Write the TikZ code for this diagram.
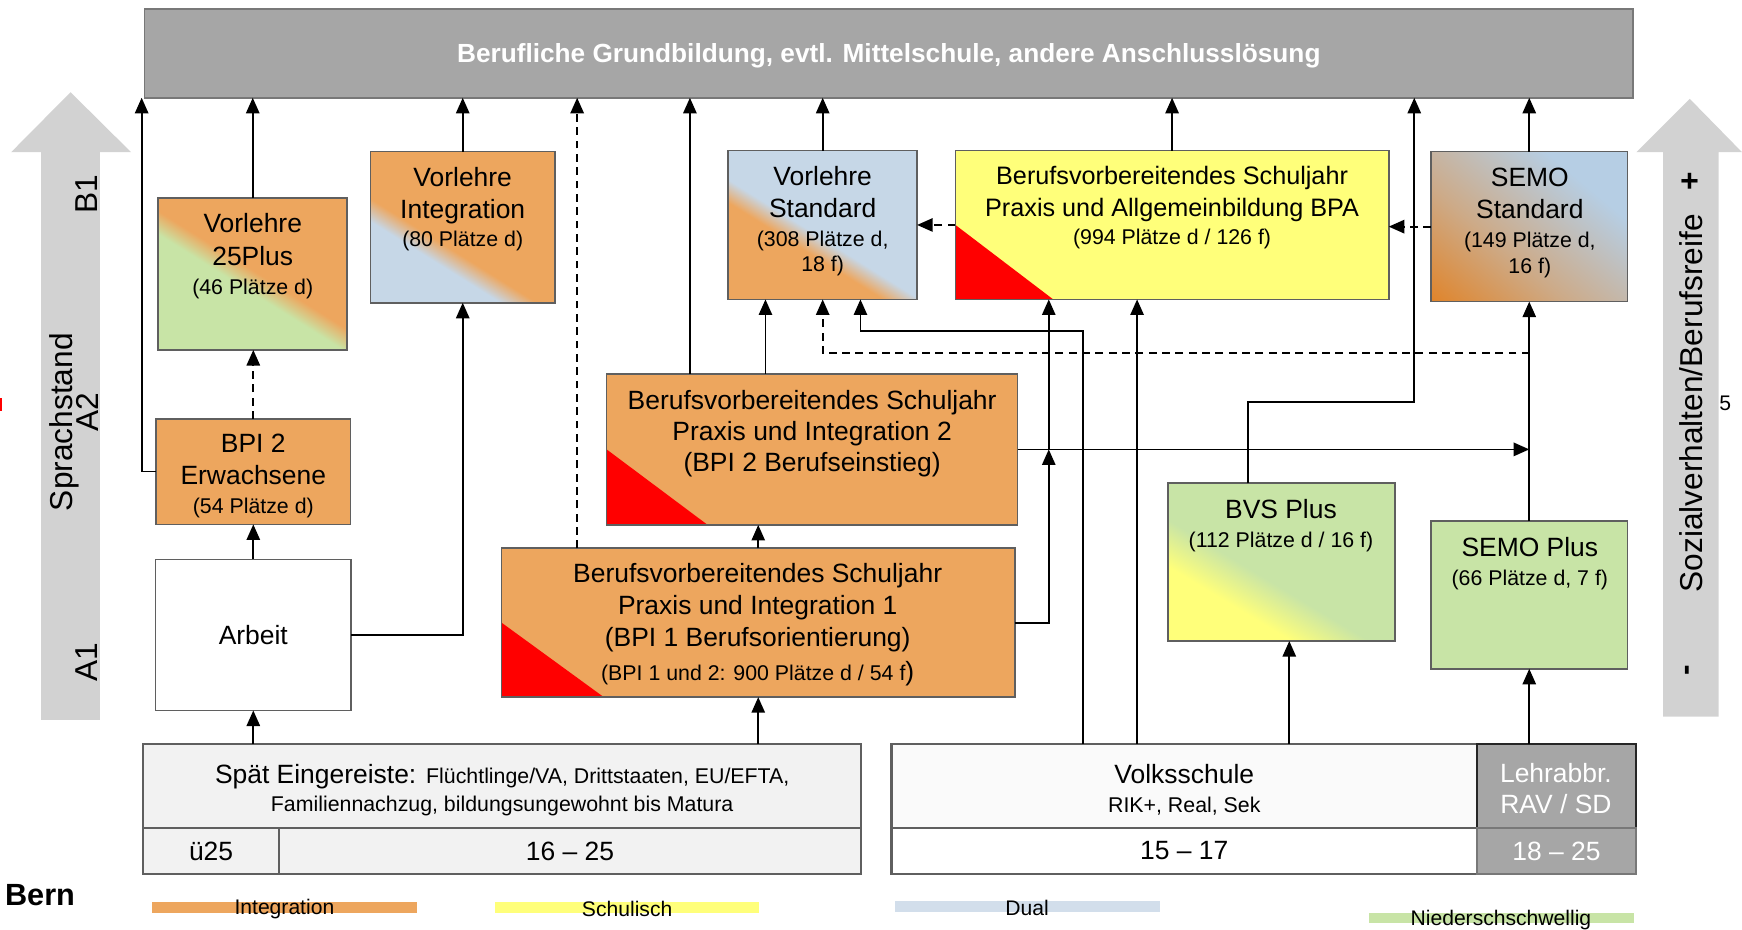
\documentclass[tikz,border=0pt]{standalone}
\usepackage{fontspec}
\setmainfont{Liberation Sans}
\usetikzlibrary{arrows.meta,calc}

\definecolor{corange}{RGB}{237,166,94}
\definecolor{cgreen}{RGB}{200,228,166}
\definecolor{cblue}{RGB}{198,215,231}
\definecolor{cyellow}{RGB}{255,255,122}
\definecolor{cgraybar}{RGB}{166,166,166}
\definecolor{cgraydk}{RGB}{120,120,120}
\definecolor{cborder}{RGB}{95,95,95}
\definecolor{carrow}{RGB}{210,210,210}
\definecolor{clight}{RGB}{242,242,242}
\definecolor{clighter}{RGB}{250,250,250}
\definecolor{csemoA}{RGB}{226,128,32}
\definecolor{csemoB}{RGB}{205,170,135}
\definecolor{csemoC}{RGB}{182,206,228}
\definecolor{clegblue}{RGB}{210,222,235}

\pgfdeclarehorizontalshading{shPtf}{100bp}{color(0bp)=(cgreen); color(45bp)=(cgreen); color(51bp)=(corange); color(100bp)=(corange)}
\pgfdeclarehorizontalshading{shVint}{100bp}{color(0bp)=(cblue); color(36.5bp)=(cblue); color(42.5bp)=(corange); color(100bp)=(corange)}
\pgfdeclarehorizontalshading{shVstd}{100bp}{color(0bp)=(corange); color(40.5bp)=(corange); color(46.5bp)=(cblue); color(100bp)=(cblue)}
\pgfdeclarehorizontalshading{shBvs}{100bp}{color(0bp)=(cyellow); color(33bp)=(cyellow); color(44bp)=(cgreen); color(100bp)=(cgreen)}
\pgfdeclarehorizontalshading{shSemo}{100bp}{color(0bp)=(csemoA); color(12bp)=(csemoA); color(40bp)=(csemoB); color(70bp)=(csemoC); color(100bp)=(csemoC)}

\newcommand\fntM{\fontsize{23.8}{29}\selectfont}
\newcommand\fntP{\fontsize{22.7}{29}\selectfont}
\newcommand\fntS{\fontsize{19.2}{23}\selectfont}
\newcommand\fntB{\fontsize{23.6}{28}\selectfont\bfseries}
\newcommand\fntL{\fontsize{19}{22}\selectfont}
\newcommand\fntA{\fontsize{28.5}{30}\selectfont}

\begin{document}
\begin{tikzpicture}[x=1pt,y=-1pt,
  box/.style={draw=cborder, line width=1.5pt, anchor=north west, inner sep=0pt, outer sep=0pt, align=center, font=\fntM},
  tab/.style={box, draw=cborder, line width=2pt},
  txt/.style={align=center, inner sep=0pt, font=\fntM},
  arr/.style={line width=1.6pt, -{Triangle[length=14pt,width=12pt]}},
  dsh/.style={dash pattern=on 7pt off 5pt},
  redcorner/.style 2 args={path picture={\fill[red] (path picture bounding box.south west) -- ++(0,-#1) -- ++(#2,#1) -- cycle;}},
  lab/.style={font=\fntA, rotate=90, inner sep=0pt},
  legt/.style={font=\fntL, inner sep=0pt}
]
\useasboundingbox (0,0) rectangle (1568,837);

% side block arrows
\fill[carrow] (37,648) -- (37,137) -- (10,137) -- (63.5,83) -- (118,137) -- (90,137) -- (90,648) -- cycle;
\fill[carrow] (1497,645) -- (1497,137) -- (1473,137) -- (1521,89) -- (1568,137) -- (1547,137) -- (1547,645) -- cycle;
\fill[red] (0,358) rectangle (2,370);

\node[lab] (lB1) at (78,175) {B1};
\node[lab] (lSpr) at (58,380) {Sprachstand};
\node[lab] (lA2) at (79,371) {A2};
\node[lab] (lA1) at (78,596) {A1};
\node[lab, font=\fntA\bfseries] (lplus) at (1522,163) {+};
\node[lab] (lSoz) at (1522,363) {Sozialverhalten/Berufsreife};
\node[lab, font=\fntA\bfseries] (lminus) at (1522,603) {-};
\node[legt] (l5) at (1553,363) {5};

% top bar
\node[box, fill=cgraybar, draw=cgraydk, minimum width=1340pt, minimum height=80pt, font=\fntB, text=white, text depth=0pt] (top) at (130,8) {Berufliche Grundbildung, evtl. Mittelschule, andere Anschlusslösung};

% upper row boxes
\node[box, shade, shading=shPtf, shading angle=58, minimum width=170pt, minimum height=137pt] (p25) at (142.5,178) {};
\node[txt] (p25t) at (227.5,230.5) {Vorlehre\\25Plus\\[-3pt]{\fntS (46 Plätze d)}};

\node[box, shade, shading=shVint, shading angle=58, minimum width=166pt, minimum height=136pt] (vint) at (333.5,136.5) {};
\node[txt] (vintt) at (416.5,188) {Vorlehre\\Integration\\[-4pt]{\fntS (80 Plätze d)}};

\node[box, shade, shading=shVstd, shading angle=58, minimum width=170pt, minimum height=134pt] (vstd) at (655.5,135.5) {};
\node[txt] (vstdt) at (740.5,199) {Vorlehre\\Standard\\[-3pt]{\fntS (308 Plätze d,}\\[-6pt]{\fntS 18 f)}};

\node[box, fill=cyellow, redcorner={67}{88}, minimum width=390pt, minimum height=134pt] (bpa) at (860,135.5) {};
\node[txt, font=\fntP] (bpat) at (1055,187) {Berufsvorbereitendes Schuljahr\\Praxis und Allgemeinbildung BPA\\[-4pt]{\fntS (994 Plätze d / 126 f)}};

\node[box, shade, shading=shSemo, shading angle=50, minimum width=177pt, minimum height=135pt] (semostd) at (1288,136.5) {};
\node[txt] (semostdt) at (1377,200.5) {SEMO\\Standard\\[-3pt]{\fntS (149 Plätze d,}\\[-6pt]{\fntS 16 f)}};

% middle boxes
\node[box, fill=corange, minimum width=175pt, minimum height=95pt] (bpiE) at (140.5,377) {};
\node[txt] (bpiEt) at (228,428.5) {BPI 2\\Erwachsene\\[-3pt]{\fntS (54 Plätze d)}};

\node[box, fill=white, minimum width=176pt, minimum height=136pt] (arb) at (140,503.5) {Arbeit};

\node[box, fill=corange, redcorner={68}{91}, minimum width=370pt, minimum height=136pt] (bpi2) at (546,336.5) {};
\node[txt] (bpi2t) at (731,390.5) {Berufsvorbereitendes Schuljahr\\[-1pt]Praxis und Integration 2\\[-1pt](BPI 2 Berufseinstieg)};

\node[box, fill=corange, redcorner={67}{92}, minimum width=462pt, minimum height=134pt] (bpi1) at (451.5,493.5) {};
\node[txt] (bpi1t) at (682,562) {Berufsvorbereitendes Schuljahr\\Praxis und Integration 1\\(BPI 1 Berufsorientierung)\\[1pt]{\fntS (BPI 1 und 2: 900 Plätze d / 54 f}{\fntM )}};

\node[box, shade, shading=shBvs, shading angle=59, minimum width=204pt, minimum height=142pt] (bvs) at (1051.5,435) {};
\node[txt] (bvst) at (1153,473) {BVS Plus\\[-3pt]{\fntS (112 Plätze d / 16 f)}};

\node[box, fill=cgreen, minimum width=177pt, minimum height=133pt] (semoplus) at (1288,469) {};
\node[txt] (semoplust) at (1377,507) {SEMO Plus\\[-3pt]{\fntS (66 Plätze d, 7 f)}};

% bottom table
\node[tab, fill=clight, minimum width=646pt, minimum height=76pt] (spaet) at (129,669.5) {};
\node[txt] (spaett) at (452,711.5) {Spät Eingereiste: {\fntS Flüchtlinge/VA, Drittstaaten, EU/EFTA,}\\[-4pt]{\fntS Familiennachzug, bildungsungewohnt bis Matura}};
\node[tab, fill=clight, minimum width=122pt, minimum height=41pt] (u25) at (129,745.5) {ü25};
\node[tab, fill=clight, minimum width=524pt, minimum height=41pt] (r1625) at (251,745.5) {16 – 25};

\node[tab, fill=clighter, minimum width=527pt, minimum height=76pt] (volk) at (802.5,669.5) {};
\node[txt] (volkt) at (1066,711) {Volksschule\\[-3pt]{\fntS RIK+, Real, Sek}};
\node[tab, fill=white, minimum width=527pt, minimum height=41pt] (r1517) at (802.5,745.5) {15 – 17};

\node[tab, fill=cgraybar, draw=black!85, minimum width=143pt, minimum height=76pt] (lehr) at (1329.5,669.5) {};
\node[txt, text=white] (lehrt) at (1400.5,710) {Lehrabbr.\\[-1pt]RAV / SD};
\node[tab, fill=cgraybar, draw=cgraydk, text=white, minimum width=143pt, minimum height=41pt] (r1825) at (1329.5,745.5) {18 – 25};

% legend
\node[font=\fontsize{27.6}{30}\selectfont\bfseries, inner sep=0pt] (bern) at (36,806) {Bern};
\fill[corange] (137,812) rectangle (375.5,821.5);
\node[legt] (lg1) at (256,818) {Integration};
\fill[cyellow] (445.5,812) rectangle (683.5,821.5);
\node[legt] (lg2) at (564.5,818) {Schulisch};
\fill[clegblue] (805.5,811) rectangle (1044,821);
\node[legt] (lg3) at (924.5,817) {Dual};
\fill[cgreen] (1232,822) rectangle (1471,831);
\node[legt] (lg4) at (1351,828) {Niederschschwellig};

% connectors
\draw[arr] (bpiE.west) -- ++(-13,0) coordinate (cL) -- (cL |- top.south);
\draw[arr] (p25.north) -- (p25.north |- top.south);
\draw[arr, dsh] (bpiE.north) -- (bpiE.north |- p25.south);
\draw[arr] (arb.north) -- (arb.north |- bpiE.south);
\draw[arr] (spaet.north -| arb.south) -- (arb.south);
\draw[arr] (arb.east) -| (vint.south);
\draw[arr] (vint.north) -- (vint.north |- top.south);
\path (bpi1.north west) ++(68,0) coordinate (dB);
\draw[arr, dsh] (dB) -- (dB |- top.south);
\path (bpi2.north west) ++(75,0) coordinate (pA);
\draw[arr] (pA) -- (pA |- top.south);
\path (bpi2.north west) ++(143,0) coordinate (pB);
\draw[arr] (pB) -- (pB |- vstd.south);
\draw[arr] (vstd.north) -- (vstd.north |- top.south);
\draw[arr] (bpi1.north) -- (bpi1.north |- bpi2.south);
\draw[arr] (spaet.north -| bpi1.south) -- (bpi1.south);
\path (bpi2.east) ++(28,0) coordinate (J);
\draw[arr] (bpi1.east) -| (J);
\draw[arr] (J) -- (J |- bpa.south);
\draw[arr] (bpi2.east) -- (bpi2.east -| semoplus.north);
\coordinate (vA) at (975,298);
\path (vstd.south east) ++(-51,0) coordinate (vT);
\draw[arr] (volk.north -| vA) -- (vA) -| (vT);
\path (volk.north west) ++(221,0) coordinate (vB);
\draw[arr] (vB) -- (vB |- bpa.south);
\path (volk.north west) ++(358,0) coordinate (vC);
\draw[arr] (vC) -- (vC |- bvs.south);
\path (bvs.north) ++(-30,0) coordinate (bA);
\coordinate (bB) at (1273,362);
\draw[arr] (bA) |- (bB) -- (bB |- top.south);
\draw[arr] (lehr.north -| semoplus.south) -- (semoplus.south);
\draw[arr] (semoplus.north) -- (semostd.south);
\draw[arr] (semostd.north) -- (semostd.north |- top.south);
\draw[arr] (bpa.north) -- (bpa.north |- top.south);
\draw[arr, dsh] (semostd.west) -- (semostd.west -| bpa.east);
\draw[arr, dsh] (bpa.west) -- (bpa.west -| vstd.east);
\coordinate (dA) at (1377,318);
\draw[arr, dsh] (dA) -| (vstd.south);
\end{tikzpicture}
\end{document}
